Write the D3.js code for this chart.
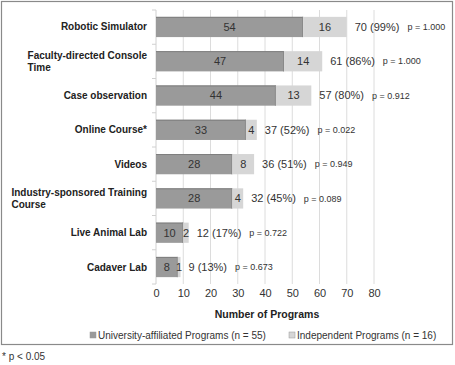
<!DOCTYPE html>
<html><head><meta charset="utf-8">
<script src="https://cdn.jsdelivr.net/npm/d3@7"></script>
<style>body{margin:0;background:#fff}svg{display:block;font-family:"Liberation Sans",Arial,sans-serif}</style>
</head><body>
<svg id="c" width="455" height="365"></svg>
<script>
const categories = [["Robotic Simulator"],["Faculty-directed Console","Time"],["Case observation"],["Online Course*"],["Videos"],["Industry-sponsored Training","Course"],["Live Animal Lab"],["Cadaver Lab"]];
const university = [54,47,44,33,28,28,10,8];
const independent = [16,14,13,4,8,4,2,1];
const totalLabels = ["70 (99%)","61 (86%)","57 (80%)","37 (52%)","36 (51%)","32 (45%)","12 (17%)","9 (13%)"];
const pLabels = ["p = 1.000","p = 1.000","p = 0.912","p = 0.022","p = 0.949","p = 0.089","p = 0.722","p = 0.673"];
const xTicks = [0,10,20,30,40,50,60,70,80];
const seriesNames = ["University-affiliated Programs (n = 55)","Independent Programs (n = 16)"];
const colors = ["#9a9a9a","#d6d6d6"];

const svg = d3.select("#c");
svg.append("rect").attr("x",1.5).attr("y",1.5).attr("width",451).attr("height",343).attr("fill","#fff").attr("stroke","#8a8a8a").attr("stroke-width",1.2);

const x = d3.scaleLinear().domain([0,80]).range([156,374]);
const y = d3.scaleBand().domain(d3.range(categories.length)).range([10,284]).paddingInner(0.41).paddingOuter(0.2);

svg.append("g").selectAll("line").data(xTicks.filter(d=>d>0)).join("line")
  .attr("x1",d=>x(d)).attr("x2",d=>x(d)).attr("y1",10).attr("y2",284)
  .attr("stroke","#dcdcdc").attr("stroke-width",1);

const yAxis = svg.append("g");
yAxis.append("line").attr("x1",x(0)).attr("x2",x(0)).attr("y1",10).attr("y2",284).attr("stroke","#d0d0d0");
yAxis.selectAll("line.t").data(d3.range(categories.length+1)).join("line").attr("class","t")
  .attr("x1",x(0)-4).attr("x2",x(0)).attr("y1",i=>10 + i*(274/categories.length)).attr("y2",i=>10 + i*(274/categories.length))
  .attr("stroke","#d0d0d0");

const g = svg.append("g");
categories.forEach((c,i)=>{
  const y0 = y(i), h = y.bandwidth();
  const u = university[i], ind = independent[i];
  g.append("rect").attr("x",x(0)).attr("y",y0).attr("width",x(u)-x(0)).attr("height",h).attr("fill",colors[0]);
  g.append("line").attr("x1",x(0)).attr("x2",x(u)).attr("y1",y0+0.5).attr("y2",y0+0.5).attr("stroke","#7e7e7e");
  g.append("line").attr("x1",x(u)-0.5).attr("x2",x(u)-0.5).attr("y1",y0).attr("y2",y0+h).attr("stroke","#888");
  g.append("rect").attr("x",x(u)).attr("y",y0).attr("width",x(u+ind)-x(u)).attr("height",h).attr("fill",colors[1]);
  g.append("text").attr("x",(x(0)+x(u))/2).attr("y",y0+h/2).attr("dy","0.35em").attr("text-anchor","middle")
    .attr("font-size",11).attr("fill","#333").text(u);
  g.append("text").attr("x",(x(u)+x(u+ind))/2).attr("y",y0+h/2).attr("dy","0.35em").attr("text-anchor","middle")
    .attr("font-size",11).attr("fill","#333").text(ind);
  const t = g.append("text").attr("x",x(u+ind)+8).attr("y",y0+h/2).attr("dy","0.35em")
    .attr("font-size",11).attr("fill","#333").text(totalLabels[i]);
  const tw = t.node().getComputedTextLength();
  g.append("text").attr("x",x(u+ind)+8+tw+8).attr("y",y0+h/2).attr("dy","0.35em")
    .attr("font-size",9).attr("fill","#333").text(pLabels[i]);
  const cy = y0+h/2;
  if (c.length===1) {
    g.append("text").attr("x",147).attr("y",cy).attr("dy","0.35em").attr("text-anchor","end")
      .attr("font-size",10).attr("font-weight","bold").attr("fill","#222").text(c[0]);
  } else {
    const t1 = g.append("text").attr("y",cy-6).attr("dy","0.35em").attr("font-size",10).attr("font-weight","bold").attr("fill","#222").text(c[0]);
    const w1 = t1.node().getComputedTextLength();
    t1.attr("x",147-w1);
    g.append("text").attr("x",147-w1).attr("y",cy+6).attr("dy","0.35em").attr("font-size",10).attr("font-weight","bold").attr("fill","#222").text(c[1]);
  }
});

const xa = svg.append("g").attr("transform","translate(0,289)")
  .call(d3.axisBottom(x).tickValues(xTicks).tickSize(0).tickPadding(0));
xa.select(".domain").remove();
xa.selectAll("text").attr("font-size",11).attr("fill","#333").attr("font-family","Liberation Sans, Arial, sans-serif").attr("dy","0.71em");

svg.append("text").attr("x",x(40)+2).attr("y",314).attr("dy","0.35em").attr("text-anchor","middle")
  .attr("font-size",10.5).attr("font-weight","bold").attr("fill","#222").text("Number of Programs");

const lg = svg.append("g");
const lx = [90,289];
seriesNames.forEach((s,i)=>{
  lg.append("rect").attr("x",lx[i]).attr("y",332).attr("width",6).attr("height",6).attr("fill",colors[i]).attr("stroke","#999").attr("stroke-width",0.5);
  lg.append("text").attr("x",lx[i]+8).attr("y",335.5).attr("dy","0.35em").attr("font-size",10).attr("fill","#333").text(s);
});

svg.append("text").attr("x",2).attr("y",356).attr("dy","0.35em").attr("font-size",10).attr("fill","#333").text("* p < 0.05");
</script>
</body></html>
